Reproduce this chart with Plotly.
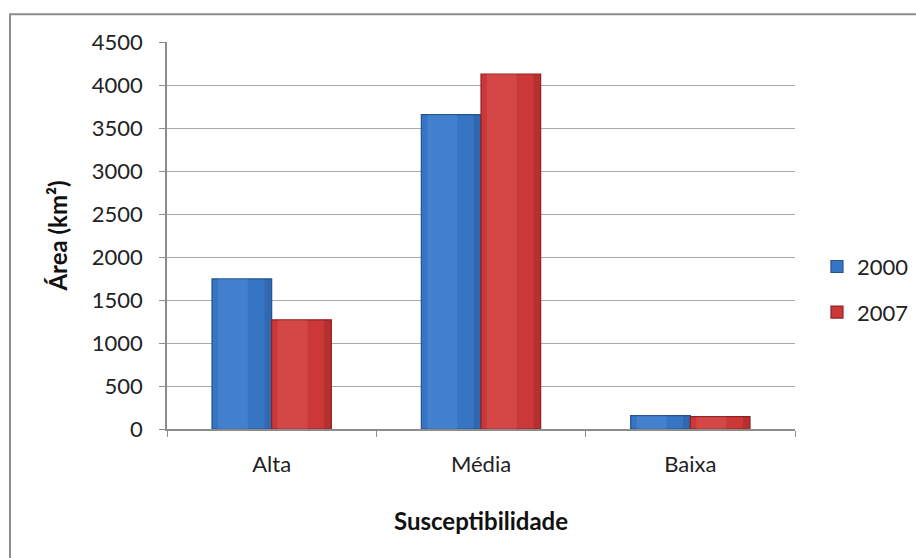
import plotly.graph_objects as go

categories = ["Alta", "Média", "Baixa"]
years = ["2000", "2007"]
values_2000 = [1745, 3655, 155]
values_2007 = [1270, 4128, 143]
y_ticks = [0, 500, 1000, 1500, 2000, 2500, 3000, 3500, 4000, 4500]

FONT = "Lato"
bar_w = 0.285
series = [
    ("2000", values_2000, -bar_w, "#24528f", "#3674c4", "#62a0e6"),
    ("2007", values_2007, 0.0, "#8f2222", "#cc3838", "#e86a6a"),
]

fig = go.Figure()
for name, vals, off, dark, main, light in series:
    fig.add_trace(go.Bar(x=categories, y=vals, name=name, legendgroup=name,
                         offset=off, width=bar_w,
                         marker=dict(color=main, line=dict(color=dark, width=1.2)),
                         showlegend=True, hoverinfo="skip"))
    fig.add_trace(go.Bar(x=categories, y=vals, name=name, legendgroup=name,
                         offset=off + bar_w * 0.10, width=bar_w * 0.50,
                         marker=dict(color=light, opacity=0.30, line=dict(width=0)),
                         showlegend=False, hoverinfo="skip"))
    fig.add_trace(go.Bar(x=categories, y=vals, name=name, legendgroup=name,
                         offset=off + bar_w * 0.88, width=bar_w * 0.12,
                         marker=dict(color=dark, opacity=0.35, line=dict(width=0)),
                         showlegend=False, hoverinfo="skip"))

fig.update_layout(
    width=916, height=558,
    margin=dict(l=167, r=121, t=42, b=129, autoexpand=False),
    paper_bgcolor="white", plot_bgcolor="white",
    barmode="overlay",
    font=dict(family=FONT, size=22, color="#222"),
    legend=dict(x=1.035, y=0.36, xanchor="left", yanchor="middle",
                font=dict(size=22, family=FONT, color="#222"),
                tracegroupgap=14, itemwidth=30, bgcolor="rgba(0,0,0,0)"),
    xaxis=dict(
        type="category", tickson="boundaries", ticks="outside", ticklen=6,
        tickcolor="#8c8c8c", showline=True, linecolor="#8c8c8c", linewidth=1.5,
        showgrid=False, tickfont=dict(size=22, family=FONT, color="#222"),
        ticklabelstandoff=15,
        title=dict(text="<b>Susceptibilidade</b>", standoff=37,
                   font=dict(size=24, family=FONT, color="#111")),
    ),
    yaxis=dict(
        range=[0, 4500], tickvals=y_ticks, ticktext=[str(v) for v in y_ticks],
        ticks="outside", ticklen=6, tickcolor="#8c8c8c",
        showline=True, linecolor="#8c8c8c", linewidth=1.5,
        showgrid=True, gridcolor="#a8a8a8", gridwidth=1.2, zeroline=False,
        tickfont=dict(size=22, family=FONT, color="#222"),
        ticklabelstandoff=12,
        title=dict(text="<b>Área (km²)</b>", standoff=17,
                   font=dict(size=24, family=FONT, color="#111")),
    ),
    shapes=[dict(type="rect", xref="paper", yref="paper",
                 x0=-0.25, x1=1.21, y0=-0.38, y1=1.072,
                 line=dict(color="#8c8c8c", width=2), fillcolor="rgba(0,0,0,0)",
                 layer="below")],
)

fig.write_html("out.html")
